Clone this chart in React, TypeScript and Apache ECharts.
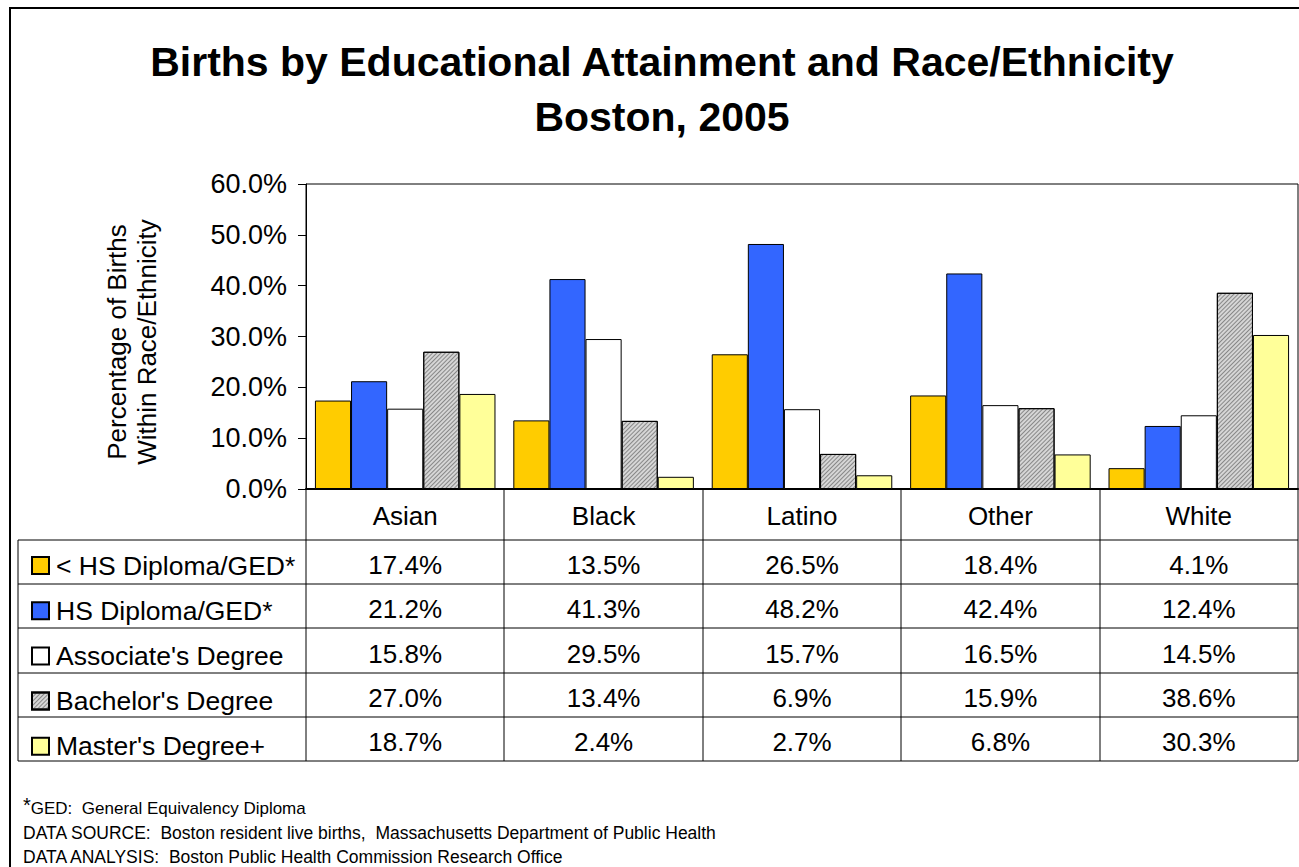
import React, { useEffect, useRef } from "react";
import * as echarts from "echarts";

const categories = ["Asian", "Black", "Latino", "Other", "White"];
const seriesNames = [
  "< HS Diploma/GED*",
  "HS Diploma/GED*",
  "Associate's Degree",
  "Bachelor's Degree",
  "Master's Degree+",
];
const lessHS = [17.4, 13.5, 26.5, 18.4, 4.1];
const hsDiploma = [21.2, 41.3, 48.2, 42.4, 12.4];
const associates = [15.8, 29.5, 15.7, 16.5, 14.5];
const bachelors = [27.0, 13.4, 6.9, 15.9, 38.6];
const masters = [18.7, 2.4, 2.7, 6.8, 30.3];
const seriesValues = [lessHS, hsDiploma, associates, bachelors, masters];
const seriesColors = ["#FFCC00", "#3366FF", "#FFFFFF", "#D6D6D6", "#FFFF99"];
const yTicks = [0, 10, 20, 30, 40, 50, 60];

const FONT = "'Liberation Sans', Arial, sans-serif";

export default function App() {
  const ref = useRef<HTMLDivElement>(null);
  useEffect(() => {
    document.body.style.margin = "0";
    const chart = echarts.init(ref.current!, null, { renderer: "svg" });

    const gridLeft = 306;
    const gridRight = 1298;
    const gridTop = 184;
    const gridBottom = 489;
    const colW = (gridRight - gridLeft) / categories.length;
    const rowLines = [540, 584, 628, 673, 717, 761];
    const tableLeft = 18;

    const graphics: any[] = [];
    graphics.push({
      type: "rect",
      shape: { x: 10, y: 8, width: 1310, height: 900 },
      style: { fill: "none", stroke: "#000", lineWidth: 2 },
      silent: true,
    });
    rowLines.forEach((y) => {
      graphics.push({
        type: "line",
        shape: { x1: tableLeft, y1: y, x2: gridRight, y2: y },
        style: { stroke: "#000", lineWidth: 1 },
      });
    });
    graphics.push({
      type: "line",
      shape: { x1: tableLeft, y1: rowLines[0], x2: tableLeft, y2: rowLines[rowLines.length - 1] },
      style: { stroke: "#000", lineWidth: 1 },
    });
    for (let i = 0; i <= categories.length; i++) {
      const x = Math.round(gridLeft + i * colW);
      graphics.push({
        type: "line",
        shape: { x1: x, y1: gridBottom, x2: x, y2: rowLines[rowLines.length - 1] },
        style: { stroke: "#000", lineWidth: 1 },
      });
    }
    seriesValues.forEach((vals, r) => {
      const yc = (rowLines[r] + rowLines[r + 1]) / 2 + 3;
      vals.forEach((v, c) => {
        graphics.push({
          type: "text",
          x: gridLeft + (c + 0.5) * colW,
          y: yc,
          style: {
            text: v.toFixed(1) + "%",
            font: `26px ${FONT}`,
            fill: "#000",
            align: "center",
            verticalAlign: "middle",
          },
        });
      });
    });
    graphics.push({
      type: "text",
      x: 132,
      y: 342,
      rotation: Math.PI / 2,
      style: {
        text: "Percentage of Births\nWithin Race/Ethnicity",
        font: `26px ${FONT}`,
        lineHeight: 30,
        fill: "#000",
        align: "center",
        verticalAlign: "middle",
      },
    });
    graphics.push({
      type: "text",
      x: 23,
      y: 808,
      style: {
        text: "{sup|*}GED:  General Equivalency Diploma",
        font: `17px ${FONT}`,
        fill: "#000",
        verticalAlign: "middle",
        rich: { sup: { fontSize: 20, verticalAlign: "top", padding: [0, 0, 6, 0] } },
      },
    });
    graphics.push({
      type: "text",
      x: 23,
      y: 833,
      style: {
        text: "DATA SOURCE:  Boston resident live births,  Massachusetts Department of Public Health",
        font: `17.5px ${FONT}`,
        fill: "#000",
        verticalAlign: "middle",
      },
    });
    graphics.push({
      type: "text",
      x: 23,
      y: 857,
      style: {
        text: "DATA ANALYSIS:  Boston Public Health Commission Research Office",
        font: `17.5px ${FONT}`,
        fill: "#000",
        verticalAlign: "middle",
      },
    });

    const series = seriesNames.map((name, i) => ({
      name,
      type: "bar",
      data: seriesValues[i],
      barGap: "0%",
      barCategoryGap: "9%",
      itemStyle: {
        color: seriesColors[i],
        borderColor: "#000",
        borderWidth: 1,
        decal:
          i === 3
            ? {
                symbol: "rect",
                symbolSize: 1,
                color: "rgba(70,70,70,0.55)",
                dashArrayX: [1, 0],
                dashArrayY: [1, 1.5],
                rotation: -Math.PI / 4,
              }
            : "none",
      },
    }));

    chart.setOption({
      animation: false,
      aria: { enabled: false, decal: { show: true } },
      title: {
        text: "Births by Educational Attainment and Race/Ethnicity\nBoston, 2005",
        left: 657,
        textAlign: "center",
        top: 29,
        textStyle: {
          fontFamily: FONT,
          fontSize: 41,
          fontWeight: "bold",
          color: "#000",
          lineHeight: 55,
        },
      },
      legend: {
        orient: "vertical",
        left: 26,
        top: rowLines[0] + 7,
        itemWidth: 17,
        itemHeight: 17,
        itemGap: 18.2,
        icon: "rect",
        selectedMode: false,
        data: seriesNames,
        textStyle: { fontFamily: FONT, fontSize: 26.5, color: "#000", lineHeight: 26, padding: [0, 0, 0, 2] },
      },
      grid: {
        left: gridLeft,
        right: 1299 - gridRight,
        top: gridTop,
        bottom: 867 - gridBottom,
        show: true,
        borderColor: "#000",
        borderWidth: 1,
        backgroundColor: "transparent",
      },
      xAxis: {
        type: "category",
        data: categories,
        axisLine: { lineStyle: { color: "#000", width: 2 } },
        axisTick: { show: false },
        axisLabel: { fontFamily: FONT, fontSize: 26, color: "#000", margin: 14 },
      },
      yAxis: {
        type: "value",
        min: 0,
        max: 60,
        interval: 10,
        axisLine: { show: true, lineStyle: { color: "#000", width: 1 } },
        axisTick: { show: true, length: 8, lineStyle: { color: "#000" } },
        splitLine: { show: false },
        axisLabel: {
          fontFamily: FONT,
          fontSize: 27,
          color: "#000",
          margin: 19,
          formatter: (v: number) => (yTicks.includes(v) ? v.toFixed(1) + "%" : ""),
        },
      },
      series,
      graphic: graphics,
    });
    return () => chart.dispose();
  }, []);
  return <div ref={ref} style={{ width: 1299, height: 867 }} />;
}
